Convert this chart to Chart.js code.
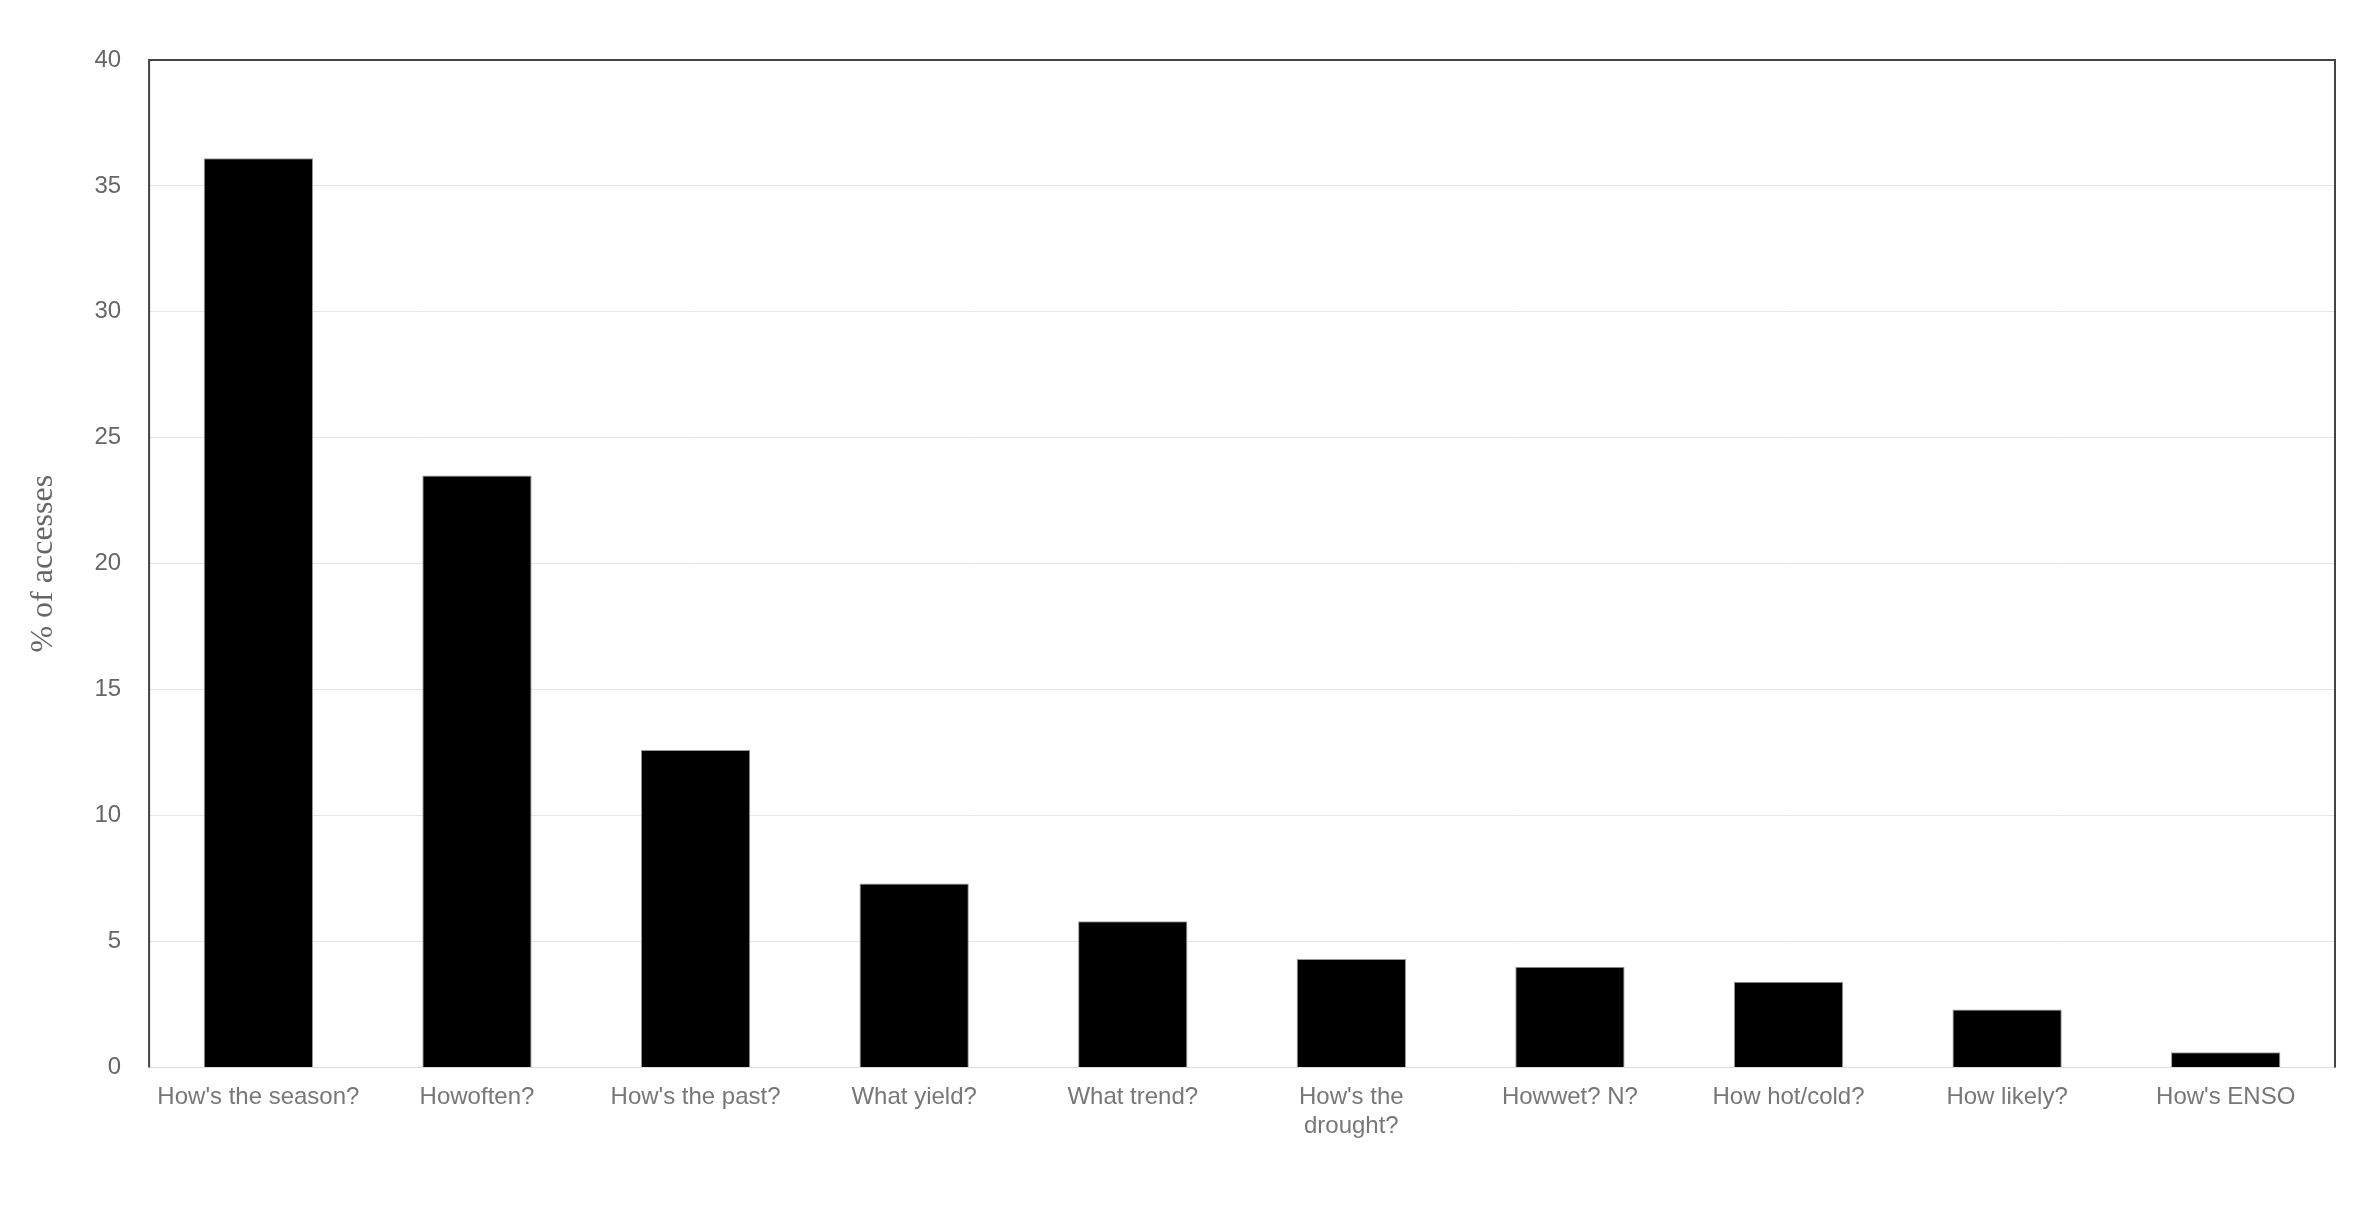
<!DOCTYPE html>
<html>
<head>
<script src="https://cdn.jsdelivr.net/npm/chart.js@4"></script>
<style>
  html, body { margin: 0; background: #fff; }
  #wrap { width: 2373px; height: 1209px; }
</style>
</head>
<body>
<div id="wrap"><canvas id="myChart"></canvas></div>
<script>
const labels = ["How's the season?", "Howoften?", "How's the past?", "What yield?", "What trend?",
  ["How's the", "drought?"], "Howwet? N?", "How hot/cold?", "How likely?", "How's ENSO"]
const accesses = [36.1, 23.5, 12.6, 7.3, 5.8, 4.3, 4.0, 3.4, 2.3, 0.6]

// plot frame on left, top and right
const frame = {
  id: 'frame',
  afterDraw(chart) {
    const a = chart.chartArea, ctx = chart.ctx
    ctx.save()
    ctx.strokeStyle = '#444'
    ctx.lineWidth = 2
    ctx.beginPath()
    ctx.moveTo(a.left, a.bottom)
    ctx.lineTo(a.left, a.top)
    ctx.lineTo(a.right, a.top)
    ctx.lineTo(a.right, a.bottom)
    ctx.stroke()
    ctx.restore()
  }
}

const ctx = document.getElementById('myChart').getContext('2d')
new Chart(ctx, {
  type: 'bar',
  data: {
    labels: labels,
    datasets: [{
      data: accesses,
      backgroundColor: '#000',
      borderColor: '#999',
      borderWidth: 1,
      categoryPercentage: 1,
      barPercentage: 0.5
    }]
  },
  options: {
    responsive: true,
    maintainAspectRatio: false,
    animation: false,
    layout: { padding: { left: 20, right: 38, top: 60, bottom: 60 } },
    plugins: { legend: { display: false }, tooltip: { enabled: false } },
    scales: {
      x: {
        grid: { display: false },
        border: { color: '#ddd' },
        ticks: { color: '#777', font: { family: 'Liberation Sans', size: 24 }, maxRotation: 0, autoSkip: false, padding: 8 }
      },
      y: {
        min: 0, max: 40,
        ticks: { stepSize: 5, color: '#666', font: { family: 'Liberation Sans', size: 24 }, padding: 28 },
        grid: { color: '#e6e6e6', drawTicks: false },
        border: { display: false },
        title: { display: true, text: '% of accesses', color: '#666', font: { family: 'Liberation Sans Narrow', size: 32 } }
      }
    }
  },
  plugins: [frame]
})
</script>
</body>
</html>
